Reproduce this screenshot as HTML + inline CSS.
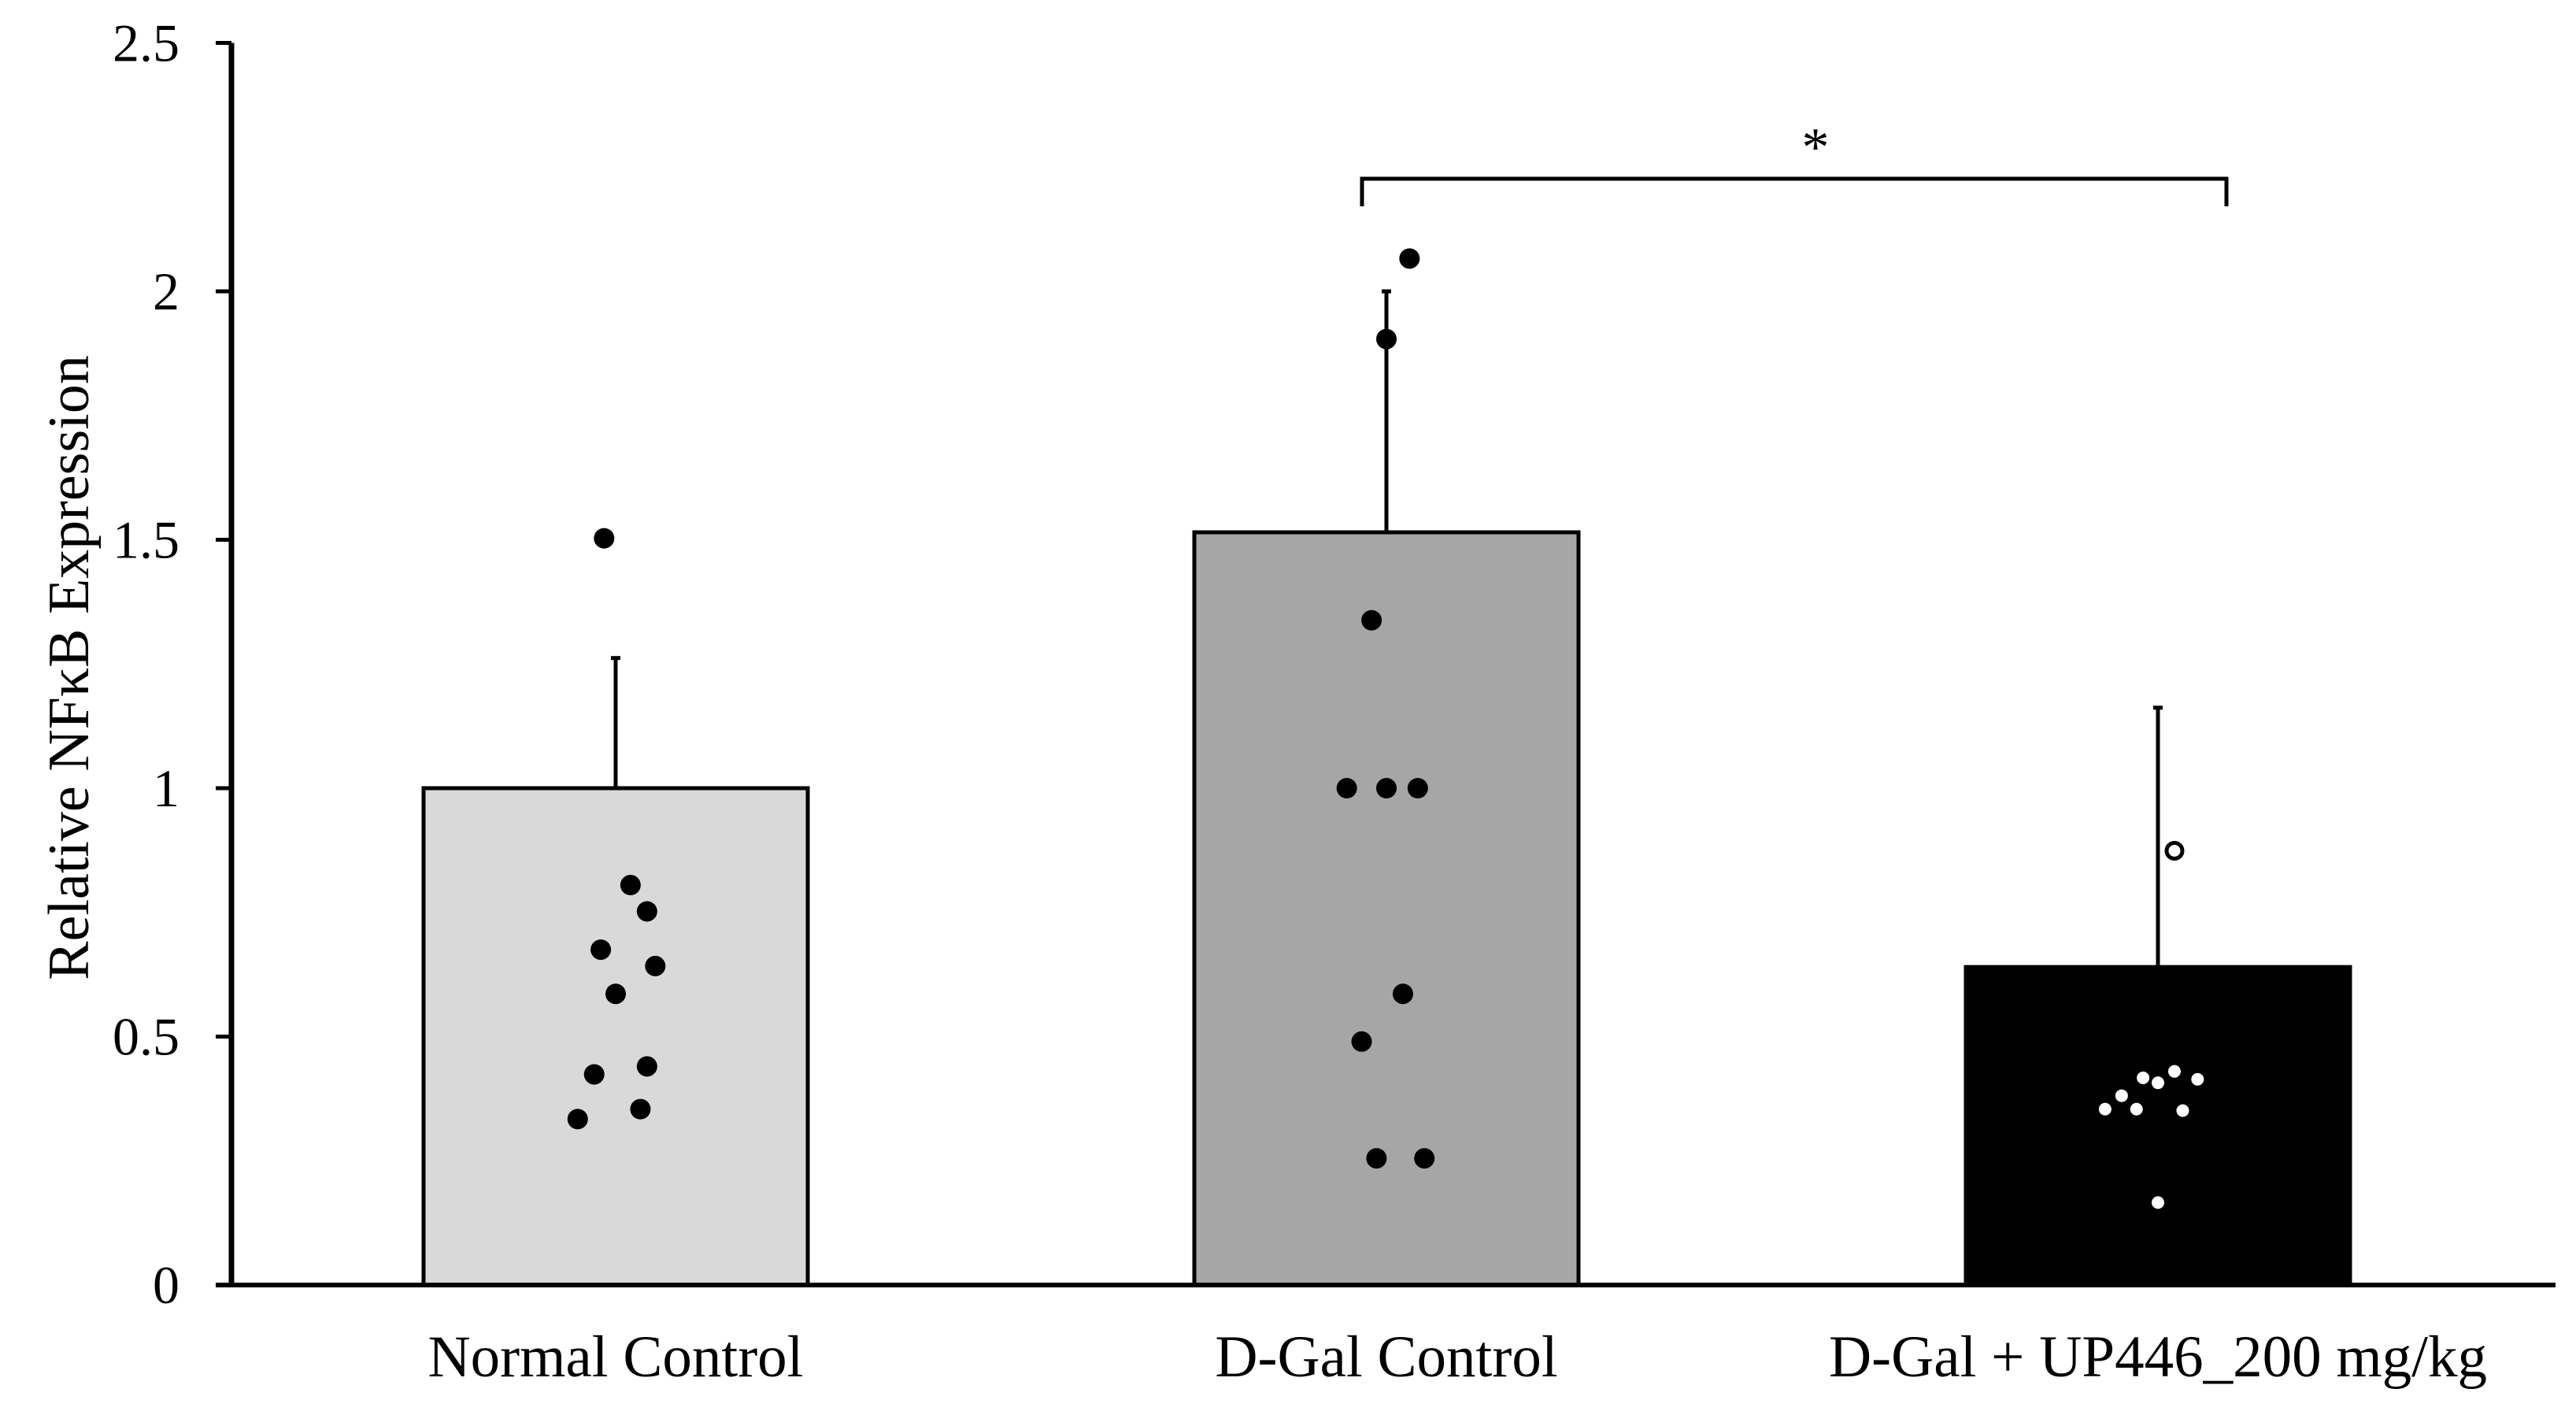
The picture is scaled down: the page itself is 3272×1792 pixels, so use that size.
<!DOCTYPE html>
<html><head><meta charset="utf-8"><style>
html,body{margin:0;padding:0;background:#fff;}
svg{display:block;font-family:"Liberation Serif",serif;}
</style></head><body>
<svg id="chart" width="3272" height="1792" viewBox="0 0 3272 1792"></svg>
<script>
const categories=["Normal Control","D-Gal Control","D-Gal + UP446_200 mg/kg"];
const means=[1.0,1.515,0.64];
const errTops=[1.262,2.0,1.162];
const fills=["#d9d9d9","#a6a6a6","#000000"];
const yTicks=[0,0.5,1,1.5,2,2.5];
const yTickLabels=["0","0.5","1","1.5","2","2.5"];
const ncPoints=[1.503,0.805,0.752,0.675,0.642,0.586,0.44,0.424,0.354,0.334];
const ncJitter=[-7,9,19,-9,24,0,19,-13,15,-23];
const dgPoints=[2.066,1.904,1.338,1.0,1.0,1.0,0.586,0.49,0.255,0.255];
const dgJitter=[14,0,-9,-24,0,19,10,-15,-6,23];
const upPoints=[0.354,0.381,0.354,0.417,0.407,0.43,0.414,0.351,0.166];
const upJitter=[-32,-22,-13,-9,0,10,24,15,0];
const upOutlier=[0.874];
const upOutlierJitter=[10];
const NS="http://www.w3.org/2000/svg";
const svg=document.getElementById('chart');
const x0=294,y0=1632,pxPerUnit=631,xEnd=3246;
const centers=[782,1761,2741],barW=488,scale=2.097;
function y(v){return y0-v*pxPerUnit;}
function xc(i){return centers[i];}
function mk(t,a){const e=document.createElementNS(NS,t);for(const k in a)e.setAttribute(k,a[k]);svg.appendChild(e);return e;}
for(let i=0;i<categories.length;i++){
  const b=mk('rect',{x:xc(i)-barW/2,y:y(means[i]),width:barW,height:y0-y(means[i]),fill:fills[i],stroke:'#000','stroke-width':5});
  
  
  const e=mk('line',{x1:xc(i),x2:xc(i),y1:y(means[i]),y2:y(errTops[i]),stroke:'#000','stroke-width':5});
  
  
  const c=mk('line',{x1:xc(i)-6,x2:xc(i)+6,y1:y(errTops[i]),y2:y(errTops[i]),stroke:'#000','stroke-width':5});
  
  
  const t=mk('text',{x:xc(i),y:1748,'text-anchor':'middle','font-size':75,fill:'#000'});
  t.textContent=categories[i];
  
  
}
function dots(vals,jit,i,fill,r){
  vals.forEach((v,k)=>{
    const d=mk('circle',{cx:xc(i)+jit[k]*scale,cy:y(v),r:r,fill:fill});
    
    
  });
}
dots(ncPoints,ncJitter,0,'#000',13);
dots(dgPoints,dgJitter,1,'#000',13);
dots(upPoints,upJitter,2,'#fff',8);
upOutlier.forEach((v,k)=>{
  const d=mk('circle',{cx:xc(2)+upOutlierJitter[k]*scale,cy:y(v),r:10,fill:'#fff',stroke:'#000','stroke-width':5});
  
  
});
const ya=mk('line',{x1:x0,x2:x0,y1:y(2.5),y2:y0+3,stroke:'#000','stroke-width':7});


const xa=mk('line',{x1:x0-20,x2:xEnd,y1:y0,y2:y0,stroke:'#000','stroke-width':6});


yTicks.forEach((v,k)=>{
  const tk=mk('line',{x1:x0-20,x2:x0,y1:y(v),y2:y(v),stroke:'#000','stroke-width':5});
  
  
  const t=mk('text',{x:228,y:y(v)+23,'text-anchor':'end','font-size':68,fill:'#000'});
  t.textContent=yTickLabels[k];
  
  
});
const yt=mk('text',{x:0,y:0,transform:'translate(112,848) rotate(-90)','text-anchor':'middle','font-size':74,fill:'#000'});
yt.textContent='Relative NFκB Expression';


const br=mk('path',{d:'M1730 262 V227 H2828 V262',fill:'none',stroke:'#000','stroke-width':5});


const st=mk('text',{x:2306,y:210,'text-anchor':'middle','font-size':70,fill:'#000'});
st.textContent='*';


</script>
</body></html>
